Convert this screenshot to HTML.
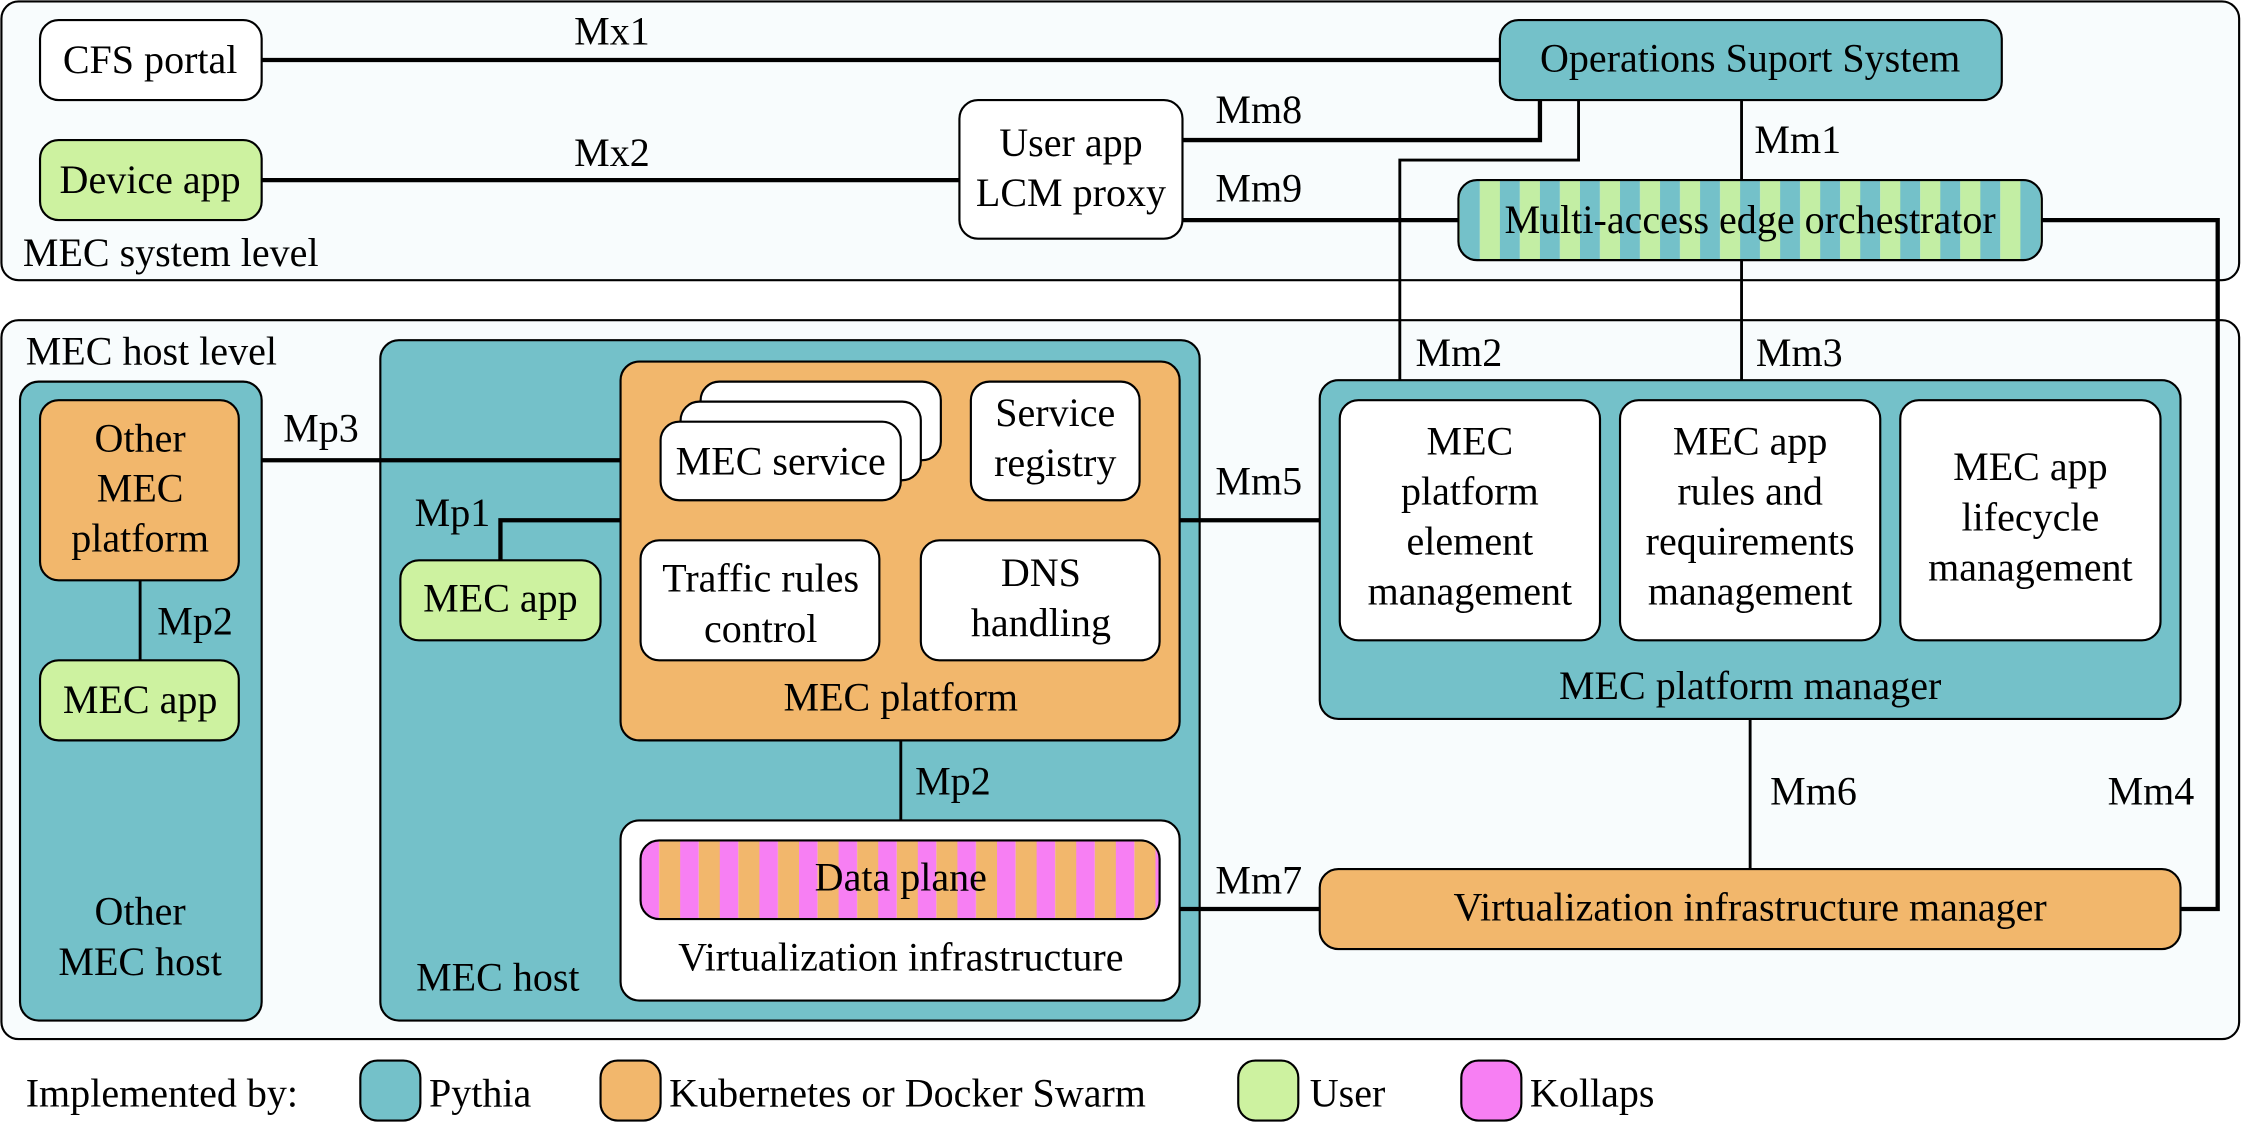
<!DOCTYPE html>
<html><head><meta charset="utf-8"><style>
html,body{margin:0;padding:0;background:#fff;}
svg{display:block;}
svg text{font-family:"Liberation Serif","Noto Serif CJK SC","DejaVu Serif",serif;font-size:28px;fill:#000;}
</style></head><body>
<svg width="2242" height="1122" viewBox="0 0 1568 785" preserveAspectRatio="none" xmlns="http://www.w3.org/2000/svg" font-size="28">
<defs>
<pattern id="meo" patternUnits="userSpaceOnUse" x="1021" y="0" width="28" height="10">
<rect x="0" y="0" width="14" height="10" fill="#74c1c9"/><rect x="14" y="0" width="14" height="10" fill="#c3eea4"/>
</pattern>
<pattern id="dp" patternUnits="userSpaceOnUse" x="448" y="0" width="27.7" height="10">
<rect x="0" y="0" width="13" height="10" fill="#f77ff3"/><rect x="13" y="0" width="14.7" height="10" fill="#f2b76c"/>
</pattern>
</defs>
<g stroke="#000" stroke-width="1.5">
<rect x="1" y="1" width="1565" height="195" rx="12" fill="#f8fcfd"/>
<rect x="1" y="224" width="1565" height="503" rx="12" fill="#f8fcfd"/>
</g>
<g stroke="#000" stroke-width="1.5">
<rect x="28" y="14" width="155" height="56" rx="13" fill="#fff"/>
<rect x="28" y="98" width="155" height="56" rx="13" fill="#cdf2a0"/>
<rect x="671" y="70" width="156" height="97" rx="13" fill="#fff"/>
<rect x="1049" y="14" width="351" height="56" rx="13" fill="#74c1c9"/>
<rect x="1020" y="126" width="408" height="56" rx="13" fill="url(#meo)"/>
<rect x="14" y="267" width="169" height="447" rx="13" fill="#74c1c9"/>
<rect x="28" y="280" width="139" height="126" rx="13" fill="#f2b76c"/>
<rect x="28" y="462" width="139" height="56" rx="13" fill="#cdf2a0"/>
<rect x="266" y="238" width="573" height="476" rx="13" fill="#74c1c9"/>
<rect x="434" y="253" width="391" height="265" rx="13" fill="#f2b76c"/>
<rect x="490" y="267" width="168" height="55" rx="13" fill="#fff"/>
<rect x="476" y="281" width="168" height="55" rx="13" fill="#fff"/>
<rect x="462" y="295" width="168" height="55" rx="13" fill="#fff"/>
<rect x="679" y="267" width="118" height="83" rx="13" fill="#fff"/>
<rect x="448" y="378" width="167" height="84" rx="13" fill="#fff"/>
<rect x="644" y="378" width="167" height="84" rx="13" fill="#fff"/>
<rect x="280" y="392" width="140" height="56" rx="13" fill="#cdf2a0"/>
<rect x="434" y="574" width="391" height="126" rx="13" fill="#fff"/>
<rect x="448" y="588" width="363" height="55" rx="13" fill="url(#dp)"/>
<rect x="923" y="266" width="602" height="237" rx="13" fill="#74c1c9"/>
<rect x="937" y="280" width="182" height="168" rx="13" fill="#fff"/>
<rect x="1133" y="280" width="182" height="168" rx="13" fill="#fff"/>
<rect x="1329" y="280" width="182" height="168" rx="13" fill="#fff"/>
<rect x="923" y="608" width="602" height="56" rx="13" fill="#f2b76c"/>
<rect x="252" y="742" width="42" height="42" rx="12" fill="#74c1c9"/>
<rect x="420" y="742" width="42" height="42" rx="12" fill="#f2b76c"/>
<rect x="866" y="742" width="42" height="42" rx="12" fill="#cdf2a0"/>
<rect x="1022" y="742" width="42" height="42" rx="12" fill="#f77ff3"/>
</g>
<g stroke="#000" stroke-width="3" fill="none">
<line x1="183" y1="42" x2="1049" y2="42"/>
<line x1="183" y1="126" x2="671" y2="126"/>
<polyline points="827,98 1077,98 1077,70"/>
<line x1="827" y1="154" x2="1020" y2="154"/>
<polyline points="1428,154 1551,154 1551,636 1525,636"/>
<line x1="183" y1="322" x2="434" y2="322"/>
<polyline points="434,364 350,364 350,392"/>
<line x1="825" y1="364" x2="923" y2="364"/>
<line x1="825" y1="636" x2="923" y2="636"/>
</g>
<g stroke="#000" stroke-width="2" fill="none">
<polyline points="1104,70 1104,112 979,112 979,266"/>
<line x1="1218" y1="70" x2="1218" y2="126"/>
<line x1="1218" y1="182" x2="1218" y2="266"/>
<line x1="98" y1="406" x2="98" y2="462"/>
<line x1="630" y1="518" x2="630" y2="574"/>
<line x1="1224" y1="503" x2="1224" y2="608"/>
</g>
<g text-anchor="middle">
<text x="105" y="51">CFS portal</text>
<text x="105" y="135">Device app</text>
<text x="749" y="109">User app</text>
<text x="749" y="144">LCM proxy</text>
<text x="1224" y="50">Operations Suport System</text>
<text x="1224" y="163">Multi-access edge orchestrator</text>
<text x="98" y="316">Other</text>
<text x="98" y="351">MEC</text>
<text x="98" y="386">platform</text>
<text x="98" y="499">MEC app</text>
<text x="98" y="647">Other</text>
<text x="98" y="682">MEC host</text>
<text x="546" y="332">MEC service</text>
<text x="738" y="298">Service</text>
<text x="738" y="333">registry</text>
<text x="532" y="414">Traffic rules</text>
<text x="532" y="449">control</text>
<text x="728" y="410">DNS</text>
<text x="728" y="445">handling</text>
<text x="350" y="428">MEC app</text>
<text x="630" y="497">MEC platform</text>
<text x="630" y="623">Data plane</text>
<text x="630" y="679">Virtualization infrastructure</text>
<text x="1028" y="318">MEC</text>
<text x="1028" y="353">platform</text>
<text x="1028" y="388">element</text>
<text x="1028" y="423">management</text>
<text x="1224" y="318">MEC app</text>
<text x="1224" y="353">rules and</text>
<text x="1224" y="388">requirements</text>
<text x="1224" y="423">management</text>
<text x="1420" y="336">MEC app</text>
<text x="1420" y="371">lifecycle</text>
<text x="1420" y="406">management</text>
<text x="1224" y="489">MEC platform manager</text>
<text x="1224" y="644">Virtualization infrastructure manager</text>
<text x="428" y="31">Mx1</text>
<text x="428" y="116">Mx2</text>
</g>
<text x="16" y="186">MEC system level</text>
<text x="18" y="255">MEC host level</text>
<text x="291" y="693">MEC host</text>
<text x="850" y="86">Mm8</text>
<text x="850" y="141">Mm9</text>
<text x="1227" y="107">Mm1</text>
<text x="990" y="256">Mm2</text>
<text x="1228" y="256">Mm3</text>
<text x="198" y="309">Mp3</text>
<text x="290" y="368">Mp1</text>
<text x="110" y="444">Mp2</text>
<text x="640" y="556">Mp2</text>
<text x="850" y="346">Mm5</text>
<text x="850" y="625">Mm7</text>
<text x="1238" y="563">Mm6</text>
<text x="1474" y="563">Mm4</text>
<text x="18" y="774">Implemented by:</text>
<text x="300" y="774">Pythia</text>
<text x="468" y="774">Kubernetes or Docker Swarm</text>
<text x="916" y="774">User</text>
<text x="1070" y="774">Kollaps</text>
</svg>
</body></html>
